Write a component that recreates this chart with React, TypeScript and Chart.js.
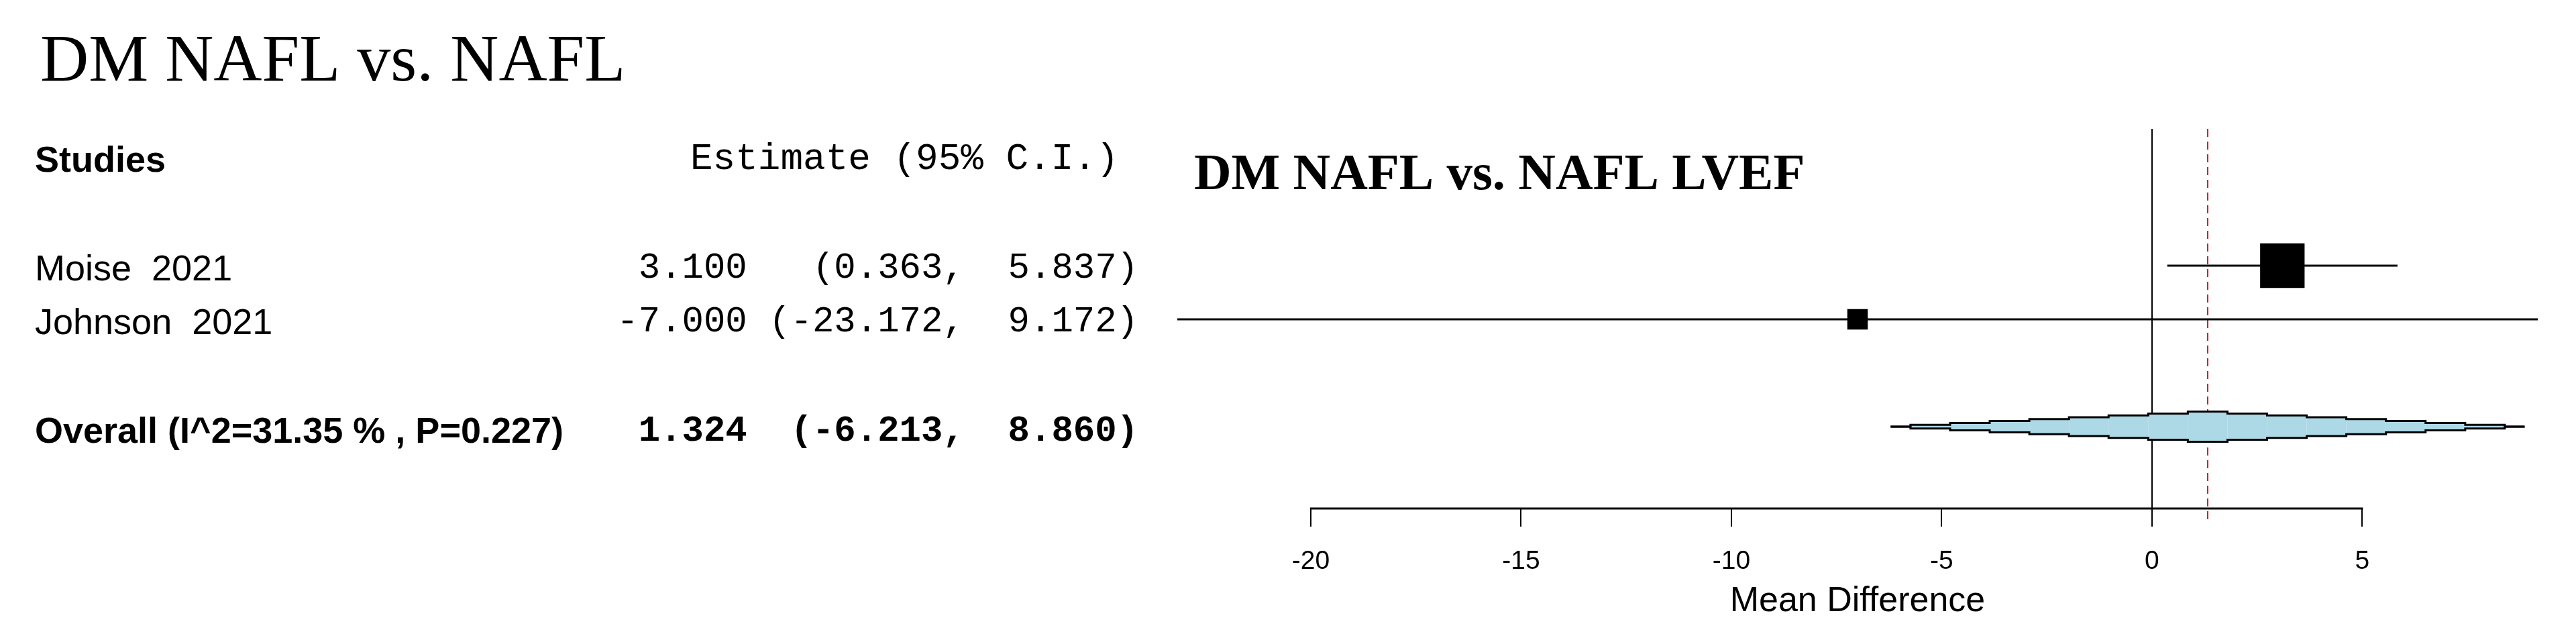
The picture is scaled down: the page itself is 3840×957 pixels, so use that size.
import React, { useEffect, useRef } from "react";
import { Chart, registerables } from "chart.js";

Chart.register(...registerables);

// ---------- data ----------
const pageTitle = "DM NAFL vs. NAFL";
const plotTitle = "DM NAFL vs. NAFL LVEF";
const headerStudies = "Studies";
const headerEstimate = "Estimate (95% C.I.)";
const studyLabels = ["Moise  2021", "Johnson  2021"];
const studyEstimates = [3.1, -7.0];
const studyLower = [0.363, -23.172];
const studyUpper = [5.837, 9.172];
const studyWeights = [82.5, 17.5]; // relative (random-effects) weights, %
const studyRows = [1, 2];
const overallLabel = "Overall (I^2=31.35 % , P=0.227)";
const overallEstimate = 1.324;
const overallLower = -6.213;
const overallUpper = 8.86;
const overallRow = 4;
const headerRow = -1;
const xTicks = [-20, -15, -10, -5, 0, 5];
const xLimits = [-23.172, 9.172];
const xAxisTitle = "Mean Difference";

// ---------- helpers ----------
const SANS = '"Liberation Sans", Arial, sans-serif';
const MONO = '"Liberation Mono", "Courier New", monospace';
const SERIF = '"Liberation Serif", "Times New Roman", serif';

const allEst = [...studyEstimates, overallEstimate];
const allLo = [...studyLower, overallLower];
const allHi = [...studyUpper, overallUpper];
const f3 = (v: number) => v.toFixed(3);
const wEst = Math.max(...allEst.map((v) => f3(v).length));
const wLo = Math.max(...allLo.map((v) => ("(" + f3(v) + ",").length));
const wHi = Math.max(...allHi.map((v) => (f3(v) + ")").length)) + 1;
const annot = (e: number, l: number, h: number) =>
  f3(e).padStart(wEst) + " " + ("(" + f3(l) + ",").padStart(wLo) + " " + (f3(h) + ")").padStart(wHi);

const forestPlugin = {
  id: "forestExtras",
  beforeDatasetsDraw(chart: any) {
    const { ctx, chartArea, scales } = chart;
    const x = scales.x;
    ctx.save();
    // line of no effect
    const x0 = Math.round(x.getPixelForValue(0));
    ctx.strokeStyle = "#000";
    ctx.lineWidth = 2;
    ctx.beginPath();
    ctx.moveTo(x0, chartArea.top);
    ctx.lineTo(x0, chartArea.bottom);
    ctx.stroke();
    // pooled estimate line
    const xp = Math.round(x.getPixelForValue(overallEstimate));
    ctx.strokeStyle = "#cc1f2a";
    ctx.lineWidth = 2;
    ctx.setLineDash([12, 7]);
    ctx.beginPath();
    ctx.moveTo(xp, chartArea.top);
    ctx.lineTo(xp, chartArea.bottom + 22);
    ctx.stroke();
    ctx.restore();
  },
  afterDatasetsDraw(chart: any) {
    // stepped summary diamond
    const { ctx, scales } = chart;
    const x = scales.x;
    const y = scales.y;
    const yc = y.getPixelForValue(overallRow);
    const half = Math.abs(y.getPixelForValue(overallRow + 0.28) - yc);
    const n = 16;
    const d = (overallUpper - overallLower) / n;
    const steps: { a: number; b: number; h: number }[] = [];
    for (let i = 0; i <= n; i++) {
      const xv = overallLower + i * d;
      const h =
        xv <= overallEstimate
          ? (half * (xv - overallLower)) / (overallEstimate - overallLower)
          : (half * (overallUpper - xv)) / (overallUpper - overallEstimate);
      const a = x.getPixelForValue(Math.max(overallLower, xv - d / 2));
      const b = x.getPixelForValue(Math.min(overallUpper, xv + d / 2));
      steps.push({ a, b, h: Math.max(0, h) });
    }
    ctx.save();
    ctx.fillStyle = "#add8e6";
    for (const s of steps) {
      if (s.h > 0) ctx.fillRect(s.a, yc - s.h, s.b - s.a, 2 * s.h);
    }
    ctx.strokeStyle = "#000";
    ctx.lineWidth = 3;
    for (const sign of [-1, 1]) {
      ctx.beginPath();
      steps.forEach((s, i) => {
        if (i === 0) ctx.moveTo(s.a, yc + sign * s.h);
        else ctx.lineTo(s.a, yc + sign * s.h);
        ctx.lineTo(s.b, yc + sign * s.h);
      });
      ctx.stroke();
    }
    ctx.restore();
  },
  afterDraw(chart: any) {
    const { ctx, chartArea, scales } = chart;
    const x = scales.x;
    const y = scales.y;
    ctx.save();
    // axis line between the first and last tick
    ctx.strokeStyle = "#000";
    ctx.lineWidth = 3;
    ctx.beginPath();
    ctx.moveTo(x.getPixelForValue(xTicks[0]) - 1, chartArea.bottom);
    ctx.lineTo(x.getPixelForValue(xTicks[xTicks.length - 1]) + 1, chartArea.bottom);
    ctx.stroke();

    ctx.fillStyle = "#000";
    ctx.textBaseline = "alphabetic";
    // page title
    ctx.textAlign = "left";
    ctx.font = `100px ${SERIF}`;
    ctx.fillText(pageTitle, 60, 120);
    // plot title
    ctx.font = `bold 77px ${SERIF}`;
    ctx.fillText(plotTitle, 1780, 282);

    const labelX = 52;
    const monoRight = 1697;
    // headers
    const hy = y.getPixelForValue(headerRow);
    ctx.font = `bold 54px ${SANS}`;
    ctx.fillText(headerStudies, labelX, hy + 20);
    ctx.font = `56px ${MONO}`;
    ctx.fillText(headerEstimate, 1029, hy + 16);

    // studies
    studyLabels.forEach((lab, i) => {
      const ry = y.getPixelForValue(studyRows[i]);
      ctx.textAlign = "left";
      ctx.font = `54px ${SANS}`;
      ctx.fillText(lab, labelX, ry + 22);
      ctx.textAlign = "right";
      ctx.font = `54px ${MONO}`;
      ctx.fillText(annot(studyEstimates[i], studyLower[i], studyUpper[i]), monoRight, ry + 18);
    });
    // overall
    const oy = y.getPixelForValue(overallRow);
    ctx.textAlign = "left";
    ctx.font = `bold 54px ${SANS}`;
    ctx.fillText(overallLabel, labelX, oy + 24);
    ctx.textAlign = "right";
    ctx.font = `bold 54px ${MONO}`;
    ctx.fillText(annot(overallEstimate, overallLower, overallUpper), monoRight, oy + 21);
    ctx.restore();
  },
};

export default function App() {
  const ref = useRef<HTMLCanvasElement | null>(null);
  useEffect(() => {
    const canvas = ref.current;
    if (!canvas) return;
    const chart = new Chart(canvas, {
      type: "scatter",
      data: {
        datasets: [
          {
            type: "scatter",
            label: "Study estimates",
            data: studyEstimates.map((v, i) => ({ x: v, y: studyRows[i] })),
            pointStyle: "rect",
            pointRadius: studyWeights.map((w) => 5.16 * Math.sqrt(w)),
            pointHoverRadius: studyWeights.map((w) => 5.16 * Math.sqrt(w)),
            backgroundColor: "#000",
            borderColor: "#000",
            borderWidth: 0,
            order: 0,
          } as any,
          ...studyLabels.map(
            (lab, i) =>
              ({
                type: "line",
                label: lab,
                data: [
                  { x: studyLower[i], y: studyRows[i] },
                  { x: studyUpper[i], y: studyRows[i] },
                ],
                borderColor: "#000",
                borderWidth: 3,
                pointRadius: 0,
                pointHoverRadius: 0,
                fill: false,
                order: 1,
              } as any)
          ),
        ],
      },
      options: {
        animation: false,
        responsive: false,
        events: [],
        layout: { padding: { left: 1755, right: 57, top: 192, bottom: 0 } },
        plugins: {
          legend: { display: false },
          title: { display: false },
          tooltip: { enabled: false },
        },
        scales: {
          x: {
            type: "linear",
            min: xLimits[0],
            max: xLimits[1],
            afterBuildTicks: (s: any) => {
              s.ticks = xTicks.map((v) => ({ value: v }));
            },
            afterFit: (s: any) => {
              s.height = 199;
            },
            grid: {
              display: true,
              drawOnChartArea: false,
              drawTicks: true,
              tickLength: 27,
              tickWidth: 2,
              tickColor: "#000",
              color: "#000",
              lineWidth: 2,
            },
            border: { display: false },
            ticks: {
              color: "#000",
              font: { family: SANS, size: 39 },
              padding: 29,
              maxRotation: 0,
              autoSkip: false,
            },
            title: {
              display: true,
              text: xAxisTitle,
              color: "#000",
              font: { family: SANS, size: 52 },
              padding: { top: 0, bottom: 29 },
            },
          },
          y: {
            type: "linear",
            reverse: true,
            min: -1.55,
            max: 5.525,
            display: false,
          },
        },
      } as any,
      plugins: [forestPlugin],
    });
    return () => chart.destroy();
  }, []);
  return (
    <div style={{ position: "absolute", left: 0, top: 0, width: 3840, height: 957, background: "#fff" }}>
      <canvas ref={ref} width={3840} height={957} style={{ display: "block" }} />
    </div>
  );
}
